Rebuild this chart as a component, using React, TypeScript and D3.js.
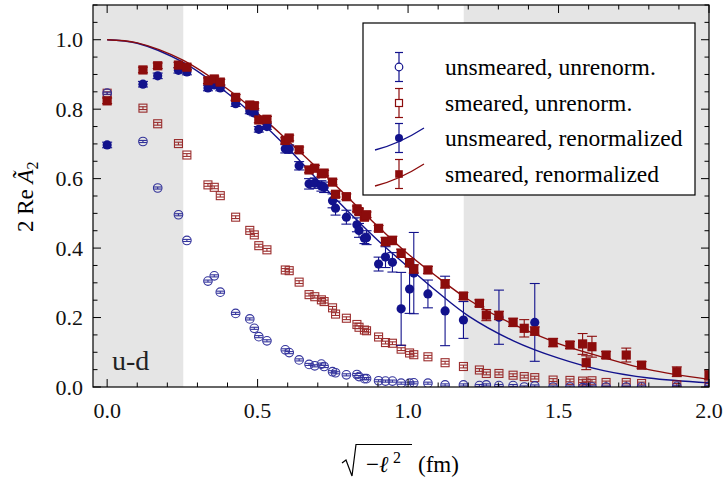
import React from "react";
import * as d3 from "d3";

// ---- data ----
const X = [0.000, 0.119, 0.168, 0.237, 0.265, 0.335, 0.356, 0.376, 0.427, 0.474, 0.489, 0.504, 0.531, 0.592, 0.605, 0.638, 0.671, 0.690, 0.712, 0.721, 0.749, 0.759, 0.795, 0.830, 0.837, 0.855, 0.862, 0.902, 0.925, 0.948, 0.977, 1.005, 1.019, 1.066, 1.123, 1.184, 1.237, 1.260, 1.302, 1.349, 1.386, 1.421, 1.482, 1.538, 1.580, 1.592, 1.611, 1.658, 1.725, 1.776, 1.893, 2.000];

const UNSMEARED_UNRENORM = [0.846, 0.707, 0.573, 0.496, 0.422, 0.305, 0.320, 0.273, 0.212, 0.196, 0.169, 0.145, 0.133, 0.107, 0.099, 0.078, 0.065, 0.061, 0.066, 0.059, 0.044, 0.041, 0.035, 0.036, 0.030, 0.024, 0.024, 0.018, 0.017, 0.017, 0.011, 0.011, 0.012, 0.011, 0.006, 0.006, 0.004, 0.006, 0.004, 0.004, 0.000, 0.003, 0.000, 0.000, -0.002, -0.003, 0.000, 0.000, 0.000, 0.000, 0.002, 0.002];
const UNSMEARED_UNRENORM_ERR = [0.003, 0.003, 0.003, 0.003, 0.003, 0.003, 0.003, 0.003, 0.003, 0.003, 0.003, 0.003, 0.003, 0.003, 0.003, 0.003, 0.003, 0.003, 0.003, 0.003, 0.003, 0.003, 0.003, 0.003, 0.003, 0.003, 0.003, 0.003, 0.003, 0.003, 0.003, 0.003, 0.003, 0.003, 0.003, 0.003, 0.003, 0.003, 0.003, 0.003, 0.003, 0.003, 0.003, 0.003, 0.003, 0.003, 0.003, 0.003, 0.003, 0.003, 0.003, 0.003];

const SMEARED_UNRENORM = [0.846, 0.803, 0.758, 0.701, 0.668, 0.582, 0.575, 0.551, 0.489, 0.451, 0.438, 0.407, 0.395, 0.337, 0.335, 0.302, 0.266, 0.260, 0.251, 0.246, 0.228, 0.210, 0.198, 0.180, 0.172, 0.164, 0.162, 0.144, 0.128, 0.126, 0.109, 0.098, 0.093, 0.087, 0.070, 0.059, 0.049, 0.039, 0.039, 0.034, 0.030, 0.027, 0.020, 0.019, 0.017, 0.011, 0.018, 0.013, 0.013, 0.010, 0.006, 0.006];
const SMEARED_UNRENORM_ERR = [0.004, 0.004, 0.004, 0.004, 0.004, 0.004, 0.004, 0.004, 0.004, 0.004, 0.004, 0.004, 0.004, 0.004, 0.004, 0.004, 0.004, 0.004, 0.004, 0.004, 0.004, 0.004, 0.004, 0.004, 0.004, 0.004, 0.004, 0.004, 0.004, 0.004, 0.004, 0.004, 0.004, 0.004, 0.004, 0.004, 0.004, 0.004, 0.004, 0.004, 0.004, 0.004, 0.004, 0.004, 0.004, 0.004, 0.004, 0.004, 0.004, 0.004, 0.004, 0.004];

const UNSMEARED_RENORM = [0.697, 0.872, 0.896, 0.912, 0.907, 0.861, 0.870, 0.861, 0.816, 0.795, 0.789, 0.742, 0.750, 0.686, 0.685, 0.637, 0.585, 0.587, 0.579, 0.575, 0.536, 0.515, 0.489, 0.467, 0.451, 0.428, 0.430, 0.354, 0.374, 0.359, 0.225, 0.282, 0.328, 0.268, 0.219, 0.193, null, null, 0.201, null, null, 0.186, null, null, null, null, null, null, null, null, null, null];
const UNSMEARED_RENORM_ERR = [0.008, 0.008, 0.008, 0.008, 0.008, 0.008, 0.008, 0.008, 0.008, 0.008, 0.008, 0.008, 0.008, 0.012, 0.012, 0.012, 0.015, 0.015, 0.015, 0.015, 0.020, 0.020, 0.020, 0.020, 0.020, 0.015, 0.020, 0.020, 0.030, 0.028, 0.105, 0.070, 0.117, 0.040, 0.100, 0.053, null, null, 0.078, null, null, 0.112, null, null, null, null, null, null, null, null, null, null];

const SMEARED_RENORM = [0.824, 0.913, 0.925, 0.927, 0.921, 0.882, 0.887, 0.878, 0.834, 0.812, 0.810, 0.769, 0.771, 0.710, 0.717, 0.683, 0.625, 0.630, 0.614, 0.616, 0.590, 0.555, 0.548, 0.513, 0.505, 0.489, 0.496, 0.457, 0.419, 0.422, 0.385, 0.358, 0.340, 0.337, 0.297, 0.262, 0.241, 0.207, 0.206, 0.186, 0.169, 0.161, 0.128, 0.121, 0.124, 0.070, 0.116, 0.092, 0.092, 0.063, 0.044, 0.035];
const SMEARED_RENORM_ERR = [0.008, 0.008, 0.008, 0.008, 0.008, 0.008, 0.008, 0.008, 0.008, 0.008, 0.008, 0.008, 0.008, 0.008, 0.008, 0.008, 0.008, 0.008, 0.008, 0.008, 0.008, 0.008, 0.008, 0.008, 0.008, 0.008, 0.008, 0.008, 0.012, 0.012, 0.012, 0.012, 0.012, 0.010, 0.012, 0.010, 0.010, 0.016, 0.012, 0.012, 0.025, 0.012, 0.012, 0.010, 0.030, 0.020, 0.030, 0.010, 0.020, 0.010, 0.014, 0.014];

// fit curves
const CURVE_X = [0, 0.1, 0.25, 0.4, 0.5, 0.6, 0.75, 0.9, 1.0, 1.1, 1.2, 1.35, 1.5, 1.65, 1.8, 2.0];
const CURVE_UNSMEARED = [1.0, 0.990, 0.936, 0.846, 0.772, 0.688, 0.550, 0.422, 0.346, 0.272, 0.205, 0.133, 0.083, 0.047, 0.026, 0.012];
const CURVE_SMEARED = [1.0, 0.991, 0.942, 0.858, 0.788, 0.710, 0.588, 0.462, 0.383, 0.315, 0.252, 0.180, 0.125, 0.085, 0.050, 0.022];

// shaded exclusion bands
const BANDS = [[-0.047, 0.253], [1.185, 2.0]];

const X_MAJOR = [0, 0.5, 1.0, 1.5, 2.0];
const Y_MAJOR = [0, 0.2, 0.4, 0.6, 0.8, 1.0];

const LEGEND = ["unsmeared, unrenorm.", "smeared, unrenorm.", "unsmeared, renormalized", "smeared, renormalized"];

// ---- styles ----
const W = 726, H = 483;
const M = { left: 93, right: 709, top: 5, bottom: 387 };
const BLUE = "#12128c";
const RED = "#8c0c0c";
const TXT = { fontFamily: "Liberation Serif" };

const x = d3.scaleLinear().domain([-0.047, 2.0]).range([M.left, M.right]);
const y = d3.scaleLinear().domain([0, 1.1]).range([M.bottom, M.top]);

function ErrBar({ cx, v, e, color, cap = 5 }) {
  const y1 = y(v + e), y2 = y(v - e);
  return (
    <g stroke={color} strokeWidth={1.1} fill="none">
      <line x1={cx} x2={cx} y1={y1} y2={y2} />
      <line x1={cx - cap} x2={cx + cap} y1={y1} y2={y1} />
      <line x1={cx - cap} x2={cx + cap} y1={y2} y2={y2} />
    </g>
  );
}

function Marker({ kind, cx, cy, color }) {
  if (kind === "oc") return <circle cx={cx} cy={cy} r={4.3} fill="none" stroke={color} strokeWidth={1.1} />;
  if (kind === "os") return <rect x={cx - 4} y={cy - 4} width={8} height={8} fill="none" stroke={color} strokeWidth={1.1} />;
  if (kind === "fc") return <circle cx={cx} cy={cy} r={4.6} fill={color} />;
  return <rect x={cx - 4.6} y={cy - 4.6} width={9.2} height={9.2} fill={color} />;
}

function Series({ vals, errs, kind, color, cap }) {
  return (
    <g>
      {X.map((xv, i) => {
        const v = vals[i];
        if (v === null || v === undefined) return null;
        const cx = x(xv), cy = y(v);
        return (
          <g key={i}>
            <ErrBar cx={cx} v={v} e={errs[i]} color={color} cap={cap} />
            <Marker kind={kind} cx={cx} cy={cy} color={color} />
          </g>
        );
      })}
    </g>
  );
}

export default function App() {
  const line = d3.line<number>()
    .x((_, i) => x(CURVE_X[i]))
    .y((d) => y(d))
    .curve(d3.curveCatmullRom.alpha(0.5));

  const xMinor = d3.range(0, 2.0001, 0.1).map((v) => +v.toFixed(2));
  const yMinor = d3.range(0, 1.1001, 0.05).map((v) => +v.toFixed(2));
  const isMajorX = (v) => X_MAJOR.some((m) => Math.abs(m - v) < 1e-6);
  const isMajorY = (v) => Y_MAJOR.some((m) => Math.abs(m - v) < 1e-6);

  const legendRows = [67, 103, 138, 174];
  const lx = 399;

  return (
    <svg width={W} height={H} style={{ position: "absolute", left: 0, top: 0, background: "#fff" }}>
      <defs>
        <clipPath id="plot">
          <rect x={M.left} y={M.top} width={M.right - M.left} height={M.bottom - M.top} />
        </clipPath>
      </defs>
      {BANDS.map(([a, b], i) => (
        <rect key={i} x={x(a)} y={M.top} width={x(b) - x(a)} height={M.bottom - M.top} fill="#e5e5e5" />
      ))}
      <text x={112} y={370} fontSize={28} fill="#222" style={TXT}>u-d</text>

      <g clipPath="url(#plot)">
        <path d={line(CURVE_UNSMEARED) || ""} fill="none" stroke={BLUE} strokeWidth={1.4} />
        <path d={line(CURVE_SMEARED) || ""} fill="none" stroke={RED} strokeWidth={1.4} />
        <g opacity={0.85}>
          <Series vals={SMEARED_UNRENORM} errs={SMEARED_UNRENORM_ERR} kind="os" color={RED} cap={4} />
          <Series vals={UNSMEARED_UNRENORM} errs={UNSMEARED_UNRENORM_ERR} kind="oc" color={BLUE} cap={4} />
        </g>
        <Series vals={UNSMEARED_RENORM} errs={UNSMEARED_RENORM_ERR} kind="fc" color={BLUE} cap={5} />
        <Series vals={SMEARED_RENORM} errs={SMEARED_RENORM_ERR} kind="fs" color={RED} cap={5} />
      </g>

      {/* legend */}
      <rect x={363} y={23} width={332} height={172} fill="#fff" stroke="#000" strokeWidth={1.2} />
      {LEGEND.map((label, i) => {
        const cy = legendRows[i];
        const color = i % 2 === 0 ? BLUE : RED;
        const kind = ["oc", "os", "fc", "fs"][i];
        return (
          <g key={i}>
            {i >= 2 && (
              <path d={`M${lx - 24},${cy + 12} Q${lx},${cy + 6} ${lx + 25},${cy - 10}`} fill="none" stroke={color} strokeWidth={1.3} />
            )}
            <g stroke={color} strokeWidth={1.2}>
              <line x1={lx} x2={lx} y1={cy - 14.5} y2={cy + 14.5} />
              <line x1={lx - 4} x2={lx + 4} y1={cy - 14.5} y2={cy - 14.5} />
              <line x1={lx - 4} x2={lx + 4} y1={cy + 14.5} y2={cy + 14.5} />
            </g>
            {kind === "oc" && <circle cx={lx} cy={cy} r={3.8} fill="#fff" stroke={color} strokeWidth={1.2} />}
            {kind === "os" && <rect x={lx - 3.5} y={cy - 3.5} width={7} height={7} fill="#fff" stroke={color} strokeWidth={1.2} />}
            {kind === "fc" && <circle cx={lx} cy={cy} r={4} fill={color} />}
            {kind === "fs" && <rect x={lx - 3.8} y={cy - 3.8} width={7.6} height={7.6} fill={color} />}
            <text x={445} y={cy + 8} fontSize={23.5} fill="#000" style={TXT}>{label}</text>
          </g>
        );
      })}

      {/* frame */}
      <rect x={M.left} y={M.top} width={M.right - M.left} height={M.bottom - M.top} fill="none" stroke="#000" strokeWidth={1.2} />
      <g stroke="#000" strokeWidth={1}>
        {xMinor.map((v) => {
          const L = isMajorX(v) ? 8 : 4.5;
          const px = x(v);
          return (
            <g key={"xt" + v}>
              <line x1={px} x2={px} y1={M.bottom} y2={M.bottom - L} />
              <line x1={px} x2={px} y1={M.top} y2={M.top + L} />
            </g>
          );
        })}
        {yMinor.map((v) => {
          const L = isMajorY(v) ? 8 : 4.5;
          const py = y(v);
          return (
            <g key={"yt" + v}>
              <line x1={M.left} x2={M.left + L} y1={py} y2={py} />
              <line x1={M.right} x2={M.right - L} y1={py} y2={py} />
            </g>
          );
        })}
      </g>
      {X_MAJOR.map((v) => (
        <text key={"xl" + v} x={x(v)} y={418} fontSize={22} textAnchor="middle" fill="#111" style={TXT}>{v.toFixed(1)}</text>
      ))}
      {Y_MAJOR.map((v) => (
        <text key={"yl" + v} x={83} y={y(v) + 7.5} fontSize={22} textAnchor="end" fill="#111" style={TXT}>{v.toFixed(1)}</text>
      ))}

      {/* x title */}
      <path d="M342,463 L346,460 L352,476 L356,444.5 L412,444.5" fill="none" stroke="#000" strokeWidth={1.2} />
      <text x={366} y={472} fontSize={23} fill="#000" style={TXT}>
        −<tspan fontStyle="italic">ℓ</tspan>
      </text>
      <text x={393} y={463} fontSize={16} fill="#000" style={TXT}>2</text>
      <text x={418} y={472} fontSize={23} fill="#000" style={TXT}>(fm)</text>

      {/* y title */}
      <text transform="translate(33,232) rotate(-90)" fontSize={23} fill="#000" style={TXT}>
        2 Re <tspan fontStyle="italic">Ã</tspan><tspan fontSize={16} dy={5}>2</tspan>
      </text>
    </svg>
  );
}
